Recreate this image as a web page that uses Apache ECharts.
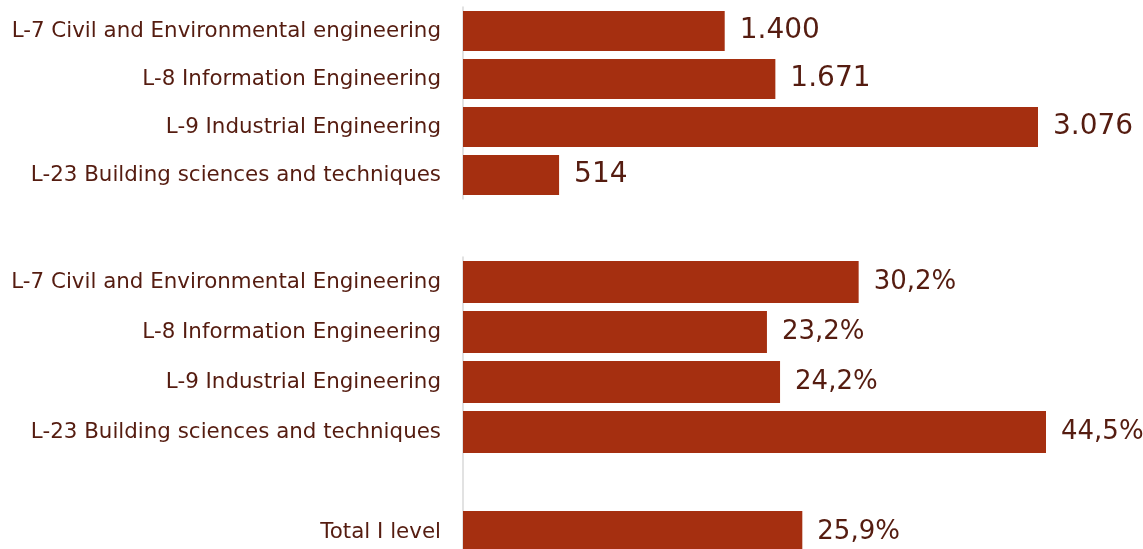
<!DOCTYPE html>
<html>
<head>
<meta charset="utf-8">
<script src="https://cdn.jsdelivr.net/npm/echarts@6/dist/echarts.min.js"></script>
<style>
  html, body { margin: 0; padding: 0; background: #fff; overflow: hidden; }
  #chart { width: 1143px; height: 560px; }
</style>
</head>
<body>
<div id="chart"></div>
<script>
// enrolled students per degree course
const countCategories = [
  'L-7 Civil and Environmental engineering',
  'L-8 Information Engineering',
  'L-9 Industrial Engineering',
  'L-23 Building sciences and techniques'
];
const countValues = [1400, 1671, 3076, 514];

// share per degree course, plus the total of first level
const shareCategories = [
  'L-7 Civil and Environmental Engineering',
  'L-8 Information Engineering',
  'L-9 Industrial Engineering',
  'L-23 Building sciences and techniques',
  '',
  'Total I level'
];
const shareValues = [30.2, 23.2, 24.2, 44.5, '-', 25.9];

const barColor = '#a52f10';
const textColor = '#551c10';
const fontFamily = 'DejaVu Sans';

function thousands(v) {
  return String(v).replace(/\B(?=(\d{3})+(?!\d))/g, '.');
}
function percent(v) {
  return v.toFixed(1).replace('.', ',') + '%';
}

const myChart = echarts.init(document.getElementById('chart'));

const yAxisCommon = {
  type: 'category',
  inverse: true,
  axisLine: { lineStyle: { color: '#d9d9d9', width: 1.5 } },
  axisTick: { show: false },
  axisLabel: { color: textColor, fontSize: 21.4, fontFamily: fontFamily, margin: 22 }
};
const xAxisCommon = {
  type: 'value',
  min: 0,
  show: false
};

const option = {
  animation: false,
  grid: [
    { left: 463, top: 7, width: 575, height: 192 },
    { left: 463, top: 257, width: 583, height: 300 }
  ],
  xAxis: [
    Object.assign({ gridIndex: 0, max: 3076 }, xAxisCommon),
    Object.assign({ gridIndex: 1, max: 44.5 }, xAxisCommon)
  ],
  yAxis: [
    Object.assign({ gridIndex: 0, data: countCategories }, yAxisCommon),
    Object.assign({ gridIndex: 1, data: shareCategories }, yAxisCommon)
  ],
  series: [
    {
      type: 'bar',
      xAxisIndex: 0,
      yAxisIndex: 0,
      data: countValues,
      barWidth: 40,
      itemStyle: { color: barColor },
      label: {
        show: true,
        position: 'right',
        distance: 15,
        color: textColor,
        fontSize: 28,
        fontFamily: fontFamily,
        formatter: p => thousands(p.value)
      }
    },
    {
      type: 'bar',
      xAxisIndex: 1,
      yAxisIndex: 1,
      data: shareValues,
      barWidth: 42,
      itemStyle: { color: barColor },
      label: {
        show: true,
        position: 'right',
        distance: 15,
        color: textColor,
        fontSize: 26,
        fontFamily: fontFamily,
        formatter: p => percent(p.value)
      }
    }
  ]
};

myChart.setOption(option);
window.addEventListener('resize', function () {
  myChart.resize();
});
</script>
</body>
</html>
